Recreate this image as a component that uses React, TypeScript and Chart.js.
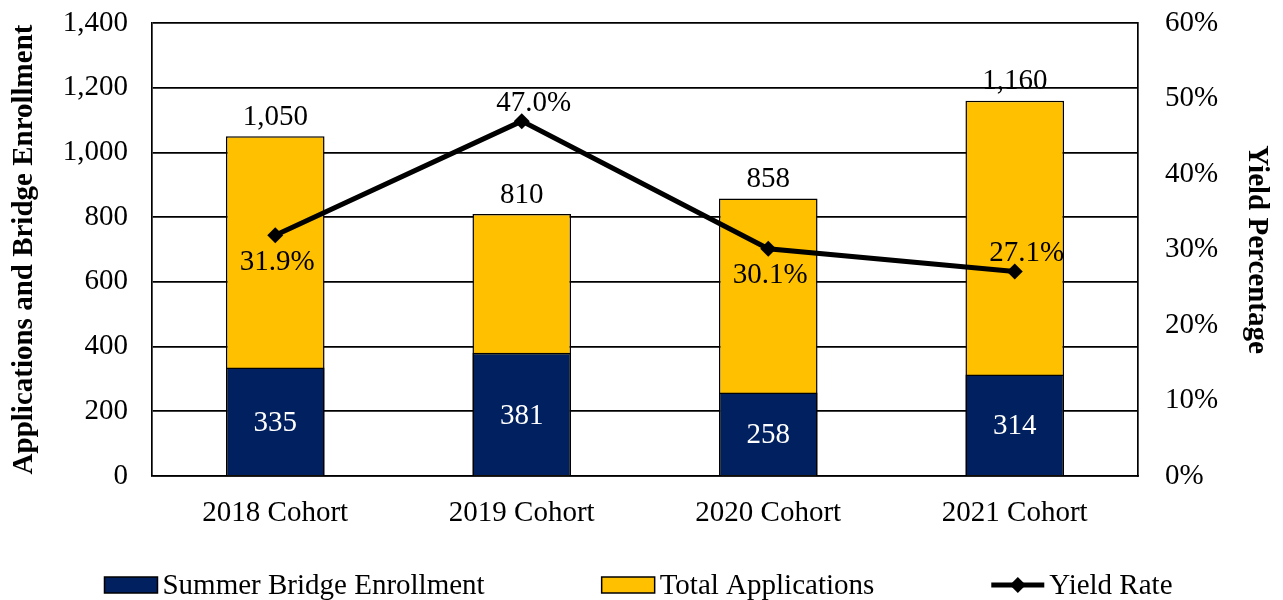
import React, { useEffect, useRef } from "react";
import { Chart, registerables } from "chart.js";

Chart.register(...registerables);

const categories = ["2018 Cohort", "2019 Cohort", "2020 Cohort", "2021 Cohort"];
const enrollment = [335, 381, 258, 314];
const totalApplications = [1050, 810, 858, 1160];
const yieldRate = [31.9, 47.0, 30.1, 27.1];
const yieldLabelSide = ["below", "above", "below", "above"];

const FONT = "'Liberation Serif', 'Times New Roman', serif";
const NAVY = "#002060";
const GOLD = "#FFC000";

const labelPlugin = {
  id: "valueLabels",
  afterDatasetsDraw(chart: any) {
    const ctx = chart.ctx;
    ctx.save();
    ctx.font = `29px ${FONT}`;
    ctx.textAlign = "center";
    ctx.textBaseline = "middle";
    const m0 = chart.getDatasetMeta(0);
    m0.data.forEach((bar: any, i: number) => {
      const p = bar.getProps(["x", "y", "base"], true);
      ctx.fillStyle = "#fff";
      ctx.fillText(enrollment[i].toLocaleString("en-US"), p.x, (p.y + p.base) / 2 + 2);
    });
    const m1 = chart.getDatasetMeta(1);
    m1.data.forEach((bar: any, i: number) => {
      const p = bar.getProps(["x", "y"], true);
      ctx.fillStyle = "#000";
      ctx.fillText(totalApplications[i].toLocaleString("en-US"), p.x, p.y - 19);
    });
    const m2 = chart.getDatasetMeta(2);
    m2.data.forEach((pt: any, i: number) => {
      const p = pt.getProps(["x", "y"], true);
      ctx.fillStyle = "#000";
      const above = yieldLabelSide[i] === "above";
      ctx.fillText(yieldRate[i].toFixed(1) + "%", p.x + (above ? 12 : 2), above ? p.y - 18 : p.y + 27);
    });
    ctx.restore();
  },
};

const legendPlugin = {
  id: "customLegend",
  afterDraw(chart: any) {
    const ctx = chart.ctx;
    ctx.save();
    ctx.font = `29px ${FONT}`;
    ctx.textBaseline = "middle";
    ctx.textAlign = "left";
    const ds = chart.data.datasets;
    const boxW = 53;
    const gapText = 5;
    const gapItem = 117;
    const widths = ds.map((d: any) => boxW + gapText + ctx.measureText(d.label).width);
    const total = widths.reduce((a: number, b: number) => a + b, 0) + gapItem * (ds.length - 1);
    let x = chart.width / 2 - total / 2 - 3;
    const y = 585;
    ds.forEach((d: any, i: number) => {
      if (d.type === "line") {
        ctx.strokeStyle = "#000";
        ctx.lineWidth = 5;
        ctx.beginPath();
        ctx.moveTo(x, y);
        ctx.lineTo(x + boxW, y);
        ctx.stroke();
        const cx = x + boxW / 2;
        const r = 8;
        ctx.fillStyle = "#000";
        ctx.beginPath();
        ctx.moveTo(cx, y - r);
        ctx.lineTo(cx + r, y);
        ctx.lineTo(cx, y + r);
        ctx.lineTo(cx - r, y);
        ctx.closePath();
        ctx.fill();
      } else {
        ctx.fillStyle = d.backgroundColor;
        ctx.fillRect(x, y - 8, boxW, 16);
        ctx.strokeStyle = "#000";
        ctx.lineWidth = 1.5;
        ctx.strokeRect(x, y - 8, boxW, 16);
      }
      ctx.fillStyle = "#000";
      ctx.fillText(d.label, x + boxW + gapText, y + 1);
      x += widths[i] + gapItem;
    });
    ctx.restore();
  },
};

export default function App() {
  const ref = useRef<HTMLCanvasElement>(null);
  useEffect(() => {
    if (!ref.current) return;
    const chart = new Chart(ref.current, {
      type: "bar",
      data: {
        labels: categories,
        datasets: [
          {
            type: "bar",
            label: "Summer Bridge Enrollment",
            data: enrollment,
            backgroundColor: NAVY,
            borderColor: "#000",
            borderWidth: 1.5,
            grouped: false,
            order: 1,
            yAxisID: "y",
            barPercentage: 0.4,
            categoryPercentage: 1,
          } as any,
          {
            type: "bar",
            label: "Total Applications",
            data: totalApplications,
            backgroundColor: GOLD,
            borderColor: "#000",
            borderWidth: 1.5,
            grouped: false,
            order: 2,
            yAxisID: "y",
            barPercentage: 0.4,
            categoryPercentage: 1,
          } as any,
          {
            type: "line",
            label: "Yield Rate",
            data: yieldRate,
            borderColor: "#000",
            backgroundColor: "#000",
            borderWidth: 5,
            pointStyle: "rectRot",
            pointRadius: 8,
            pointBackgroundColor: "#000",
            pointBorderColor: "#000",
            pointBorderWidth: 0,
            tension: 0,
            order: 0,
            yAxisID: "y1",
          } as any,
        ],
      },
      options: {
        responsive: false,
        animation: false,
        layout: { padding: { top: 23, bottom: 60, left: 0, right: 0 } },
        plugins: {
          legend: { display: false },
          tooltip: { enabled: false },
        },
        scales: {
          x: {
            afterFit: (s: any) => {
              s.height = 64;
            },
            grid: { display: false, drawTicks: false },
            border: { display: true, color: "#000", width: 1.5 },
            ticks: { color: "#000", font: { family: FONT, size: 29 }, padding: 20, maxRotation: 0 },
          },
          y: {
            position: "left",
            min: 0,
            max: 1400,
            afterFit: (s: any) => {
              s.width = 152;
            },
            ticks: {
              stepSize: 200,
              color: "#000",
              font: { family: FONT, size: 29 },
              padding: 0,
            },
            grid: {
              color: "#000",
              lineWidth: 1.7,
              drawTicks: true,
              tickLength: 24,
              tickColor: "rgba(0,0,0,0)",
            },
            border: { display: true, color: "#000", width: 1.7 },
            title: {
              display: true,
              text: "Applications and Bridge Enrollment",
              color: "#000",
              font: { family: FONT, size: 29, weight: "bold" },
              padding: { top: 7, bottom: 0 },
            },
          },
          y1: {
            position: "right",
            min: 0,
            max: 60,
            afterFit: (s: any) => {
              s.width = 145;
            },
            ticks: {
              stepSize: 10,
              color: "#000",
              font: { family: FONT, size: 29 },
              padding: 0,
              callback: (v: any) => v + "%",
            },
            grid: { display: false, drawTicks: true, tickLength: 27, tickColor: "rgba(0,0,0,0)" },
            border: { display: true, color: "#000", width: 1.7 },
            title: {
              display: true,
              text: "Yield Percentage",
              color: "#000",
              font: { family: FONT, size: 29, weight: "bold" },
              padding: { top: 9, bottom: 0 },
            },
          },
        },
      } as any,
      plugins: [labelPlugin, legendPlugin],
    });
    return () => chart.destroy();
  }, []);
  return (
    <div style={{ position: "fixed", left: 0, top: 0, width: 1283, height: 600, background: "#fff" }}>
      <canvas ref={ref} width={1283} height={600} style={{ width: 1283, height: 600, display: "block" }} />
    </div>
  );
}
